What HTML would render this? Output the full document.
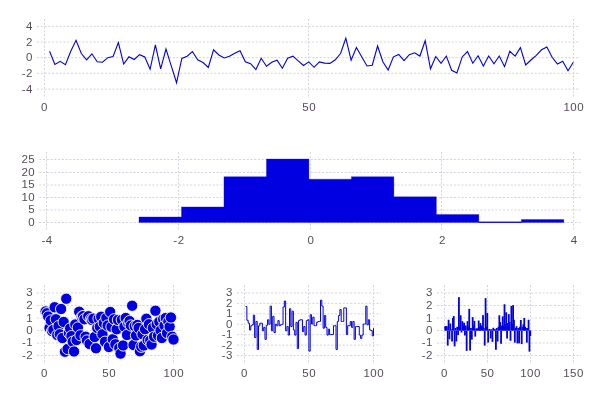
<!DOCTYPE html>
<html><head><meta charset="utf-8"><style>
html,body{margin:0;padding:0;background:#fff;}
svg{display:block;will-change:transform;}
text{font-family:"Liberation Sans",sans-serif;font-size:11.5px;fill:#564c58;letter-spacing:0.5px;}
.g{stroke:#d4d4e0;stroke-width:1;stroke-dasharray:2.1 1.67;}
</style></head><body>
<svg width="600" height="400" viewBox="0 0 600 400">
<rect width="600" height="400" fill="#fff"/>
<line x1="37" y1="26.4" x2="580" y2="26.4" class="g"/>
<line x1="37" y1="42.0" x2="580" y2="42.0" class="g"/>
<line x1="37" y1="57.65" x2="580" y2="57.65" class="g"/>
<line x1="37" y1="73.3" x2="580" y2="73.3" class="g"/>
<line x1="37" y1="89.1" x2="580" y2="89.1" class="g"/>
<line x1="44.5" y1="19" x2="44.5" y2="96.5" class="g"/>
<line x1="308.5" y1="19" x2="308.5" y2="96.5" class="g"/>
<line x1="573.5" y1="19" x2="573.5" y2="96.5" class="g"/>
<text x="33.00" y="30" text-anchor="end">4</text>
<text x="33.00" y="46" text-anchor="end">2</text>
<text x="33.00" y="61" text-anchor="end">0</text>
<text x="33.00" y="77" text-anchor="end">-2</text>
<text x="33.00" y="93" text-anchor="end">-4</text>
<text x="44.55" y="111" text-anchor="middle">0</text>
<text x="309.15" y="111" text-anchor="middle">50</text>
<text x="573.75" y="111" text-anchor="middle">100</text>
<polyline points="49.59,51.25 54.88,64.45 60.17,61.30 65.46,64.75 70.75,51.25 76.04,40.30 81.33,53.50 86.62,59.80 91.91,53.80 97.20,61.75 102.49,62.20 107.78,57.70 113.07,56.50 118.36,42.55 123.65,64.00 128.94,56.80 134.23,59.50 139.52,54.70 144.81,57.00 150.10,69.25 155.39,44.80 160.68,68.80 165.97,49.00 171.26,65.80 176.55,82.75 181.84,58.45 187.13,56.20 192.42,51.55 197.71,59.80 203.00,62.50 208.29,67.50 213.58,49.75 218.87,55.00 224.16,58.00 229.45,56.20 234.74,53.20 240.03,50.80 245.32,61.75 250.61,63.70 255.90,69.55 261.19,58.30 266.48,66.25 271.77,62.20 277.06,60.25 282.35,68.20 287.64,58.20 292.93,56.20 298.22,60.85 303.51,65.50 308.80,61.90 314.09,67.30 319.38,61.90 324.67,63.10 329.96,63.40 335.25,59.80 340.54,53.50 345.83,38.20 351.12,60.25 356.41,47.50 361.70,56.70 366.99,65.95 372.28,65.20 377.57,46.00 382.86,61.75 388.15,70.00 393.44,56.80 398.73,54.40 404.02,60.55 409.31,54.70 414.60,52.75 419.89,56.05 425.18,40.75 430.47,68.80 435.76,56.50 441.05,63.40 446.34,56.05 451.63,70.30 456.92,73.00 462.21,56.95 467.50,51.55 472.79,63.25 478.08,55.75 483.37,65.95 488.66,56.05 493.95,63.70 499.24,56.05 504.53,66.70 509.82,51.25 515.11,56.10 520.40,47.60 525.69,65.00 530.98,60.00 536.27,55.30 541.56,49.75 546.85,47.00 552.14,57.25 557.43,64.00 562.72,61.30 568.01,70.75 573.30,62.20" fill="none" stroke="#0000e1" stroke-width="1.1" stroke-linejoin="miter"/>
<line x1="39.25" y1="222.5" x2="581" y2="222.5" class="g"/>
<line x1="39.25" y1="210.0" x2="581" y2="210.0" class="g"/>
<line x1="39.25" y1="197.5" x2="581" y2="197.5" class="g"/>
<line x1="39.25" y1="185.0" x2="581" y2="185.0" class="g"/>
<line x1="39.25" y1="172.5" x2="581" y2="172.5" class="g"/>
<line x1="39.25" y1="159.5" x2="581" y2="159.5" class="g"/>
<line x1="46.5" y1="152" x2="46.5" y2="229.5" class="g"/>
<line x1="178.5" y1="152" x2="178.5" y2="229.5" class="g"/>
<line x1="310.5" y1="152" x2="310.5" y2="229.5" class="g"/>
<line x1="441.5" y1="152" x2="441.5" y2="229.5" class="g"/>
<line x1="573.5" y1="152" x2="573.5" y2="229.5" class="g"/>
<text x="35.20" y="226" text-anchor="end">0</text>
<text x="35.20" y="213" text-anchor="end">5</text>
<text x="35.20" y="201" text-anchor="end">10</text>
<text x="35.20" y="188" text-anchor="end">15</text>
<text x="35.20" y="176" text-anchor="end">20</text>
<text x="35.20" y="163" text-anchor="end">25</text>
<text x="47.00" y="244" text-anchor="middle">-4</text>
<text x="178.95" y="244" text-anchor="middle">-2</text>
<text x="310.95" y="244" text-anchor="middle">0</text>
<text x="442.45" y="244" text-anchor="middle">2</text>
<text x="574.15" y="244" text-anchor="middle">4</text>
<rect x="478.84" y="221.70" width="42.48" height="1" fill="#0000e1"/>
<path d="M139.00,222.60V216.96H181.48V222.60Z M181.48,222.60V206.88H223.96V222.60Z M223.96,222.60V176.64H266.44V222.60Z M266.44,222.60V159.00H308.92V222.60Z M308.92,222.60V179.16H351.40V222.60Z M351.40,222.60V176.64H393.88V222.60Z M393.88,222.60V196.80H436.36V222.60Z M436.36,222.60V214.44H478.84V222.60Z M478.84,222.60V222.00H521.32V222.60Z M521.32,222.60V219.48H563.80V222.60Z " fill="#0000e1" stroke="#0000e1" stroke-width="0.3"/>
<line x1="37" y1="293.0" x2="181" y2="293.0" class="g"/>
<line x1="37" y1="305.5" x2="181" y2="305.5" class="g"/>
<line x1="37" y1="318.0" x2="181" y2="318.0" class="g"/>
<line x1="37" y1="330.5" x2="181" y2="330.5" class="g"/>
<line x1="37" y1="343.0" x2="181" y2="343.0" class="g"/>
<line x1="37" y1="355.5" x2="181" y2="355.5" class="g"/>
<line x1="44.5" y1="285" x2="44.5" y2="362.5" class="g"/>
<line x1="108.5" y1="285" x2="108.5" y2="362.5" class="g"/>
<line x1="173.5" y1="285" x2="173.5" y2="362.5" class="g"/>
<text x="33.20" y="296" text-anchor="end">3</text>
<text x="33.20" y="309" text-anchor="end">2</text>
<text x="33.20" y="322" text-anchor="end">1</text>
<text x="33.20" y="334" text-anchor="end">0</text>
<text x="33.20" y="346" text-anchor="end">-1</text>
<text x="33.20" y="359" text-anchor="end">-2</text>
<text x="44.55" y="377" text-anchor="middle">0</text>
<text x="109.15" y="377" text-anchor="middle">50</text>
<text x="173.75" y="377" text-anchor="middle">100</text>
<circle cx="45.59" cy="311.50" r="5.65" fill="#0000e1" stroke="#fff" stroke-width="0.9"/>
<circle cx="46.88" cy="313.25" r="5.65" fill="#0000e1" stroke="#fff" stroke-width="0.9"/>
<circle cx="48.18" cy="316.50" r="5.65" fill="#0000e1" stroke="#fff" stroke-width="0.9"/>
<circle cx="49.47" cy="328.00" r="5.65" fill="#0000e1" stroke="#fff" stroke-width="0.9"/>
<circle cx="50.76" cy="320.50" r="5.65" fill="#0000e1" stroke="#fff" stroke-width="0.9"/>
<circle cx="52.05" cy="331.12" r="5.65" fill="#0000e1" stroke="#fff" stroke-width="0.9"/>
<circle cx="53.34" cy="329.88" r="5.65" fill="#0000e1" stroke="#fff" stroke-width="0.9"/>
<circle cx="54.64" cy="307.25" r="5.65" fill="#0000e1" stroke="#fff" stroke-width="0.9"/>
<circle cx="55.93" cy="319.25" r="5.65" fill="#0000e1" stroke="#fff" stroke-width="0.9"/>
<circle cx="57.22" cy="335.00" r="5.65" fill="#0000e1" stroke="#fff" stroke-width="0.9"/>
<circle cx="58.51" cy="326.12" r="5.65" fill="#0000e1" stroke="#fff" stroke-width="0.9"/>
<circle cx="59.80" cy="334.25" r="5.65" fill="#0000e1" stroke="#fff" stroke-width="0.9"/>
<circle cx="61.10" cy="309.00" r="5.65" fill="#0000e1" stroke="#fff" stroke-width="0.9"/>
<circle cx="62.39" cy="338.00" r="5.65" fill="#0000e1" stroke="#fff" stroke-width="0.9"/>
<circle cx="63.68" cy="322.00" r="5.65" fill="#0000e1" stroke="#fff" stroke-width="0.9"/>
<circle cx="64.97" cy="351.75" r="5.65" fill="#0000e1" stroke="#fff" stroke-width="0.9"/>
<circle cx="66.26" cy="298.75" r="5.65" fill="#0000e1" stroke="#fff" stroke-width="0.9"/>
<circle cx="67.56" cy="349.00" r="5.65" fill="#0000e1" stroke="#fff" stroke-width="0.9"/>
<circle cx="68.85" cy="333.00" r="5.65" fill="#0000e1" stroke="#fff" stroke-width="0.9"/>
<circle cx="70.14" cy="328.50" r="5.65" fill="#0000e1" stroke="#fff" stroke-width="0.9"/>
<circle cx="71.43" cy="336.12" r="5.65" fill="#0000e1" stroke="#fff" stroke-width="0.9"/>
<circle cx="72.72" cy="341.75" r="5.65" fill="#0000e1" stroke="#fff" stroke-width="0.9"/>
<circle cx="74.02" cy="351.50" r="5.65" fill="#0000e1" stroke="#fff" stroke-width="0.9"/>
<circle cx="75.31" cy="324.50" r="5.65" fill="#0000e1" stroke="#fff" stroke-width="0.9"/>
<circle cx="76.60" cy="340.00" r="5.65" fill="#0000e1" stroke="#fff" stroke-width="0.9"/>
<circle cx="77.89" cy="327.50" r="5.65" fill="#0000e1" stroke="#fff" stroke-width="0.9"/>
<circle cx="79.18" cy="311.75" r="5.65" fill="#0000e1" stroke="#fff" stroke-width="0.9"/>
<circle cx="80.48" cy="335.25" r="5.65" fill="#0000e1" stroke="#fff" stroke-width="0.9"/>
<circle cx="81.77" cy="316.75" r="5.65" fill="#0000e1" stroke="#fff" stroke-width="0.9"/>
<circle cx="83.06" cy="316.12" r="5.65" fill="#0000e1" stroke="#fff" stroke-width="0.9"/>
<circle cx="84.35" cy="319.25" r="5.65" fill="#0000e1" stroke="#fff" stroke-width="0.9"/>
<circle cx="85.64" cy="336.75" r="5.65" fill="#0000e1" stroke="#fff" stroke-width="0.9"/>
<circle cx="86.94" cy="340.50" r="5.65" fill="#0000e1" stroke="#fff" stroke-width="0.9"/>
<circle cx="88.23" cy="316.25" r="5.65" fill="#0000e1" stroke="#fff" stroke-width="0.9"/>
<circle cx="89.52" cy="344.00" r="5.65" fill="#0000e1" stroke="#fff" stroke-width="0.9"/>
<circle cx="90.81" cy="319.25" r="5.65" fill="#0000e1" stroke="#fff" stroke-width="0.9"/>
<circle cx="92.10" cy="320.00" r="5.65" fill="#0000e1" stroke="#fff" stroke-width="0.9"/>
<circle cx="93.40" cy="318.62" r="5.65" fill="#0000e1" stroke="#fff" stroke-width="0.9"/>
<circle cx="94.69" cy="337.00" r="5.65" fill="#0000e1" stroke="#fff" stroke-width="0.9"/>
<circle cx="95.98" cy="348.25" r="5.65" fill="#0000e1" stroke="#fff" stroke-width="0.9"/>
<circle cx="97.27" cy="328.00" r="5.65" fill="#0000e1" stroke="#fff" stroke-width="0.9"/>
<circle cx="98.56" cy="318.62" r="5.65" fill="#0000e1" stroke="#fff" stroke-width="0.9"/>
<circle cx="99.86" cy="326.75" r="5.65" fill="#0000e1" stroke="#fff" stroke-width="0.9"/>
<circle cx="101.15" cy="316.75" r="5.65" fill="#0000e1" stroke="#fff" stroke-width="0.9"/>
<circle cx="102.44" cy="334.25" r="5.65" fill="#0000e1" stroke="#fff" stroke-width="0.9"/>
<circle cx="103.73" cy="323.00" r="5.65" fill="#0000e1" stroke="#fff" stroke-width="0.9"/>
<circle cx="105.02" cy="341.75" r="5.65" fill="#0000e1" stroke="#fff" stroke-width="0.9"/>
<circle cx="106.32" cy="318.00" r="5.65" fill="#0000e1" stroke="#fff" stroke-width="0.9"/>
<circle cx="107.61" cy="325.50" r="5.65" fill="#0000e1" stroke="#fff" stroke-width="0.9"/>
<circle cx="108.90" cy="347.00" r="5.65" fill="#0000e1" stroke="#fff" stroke-width="0.9"/>
<circle cx="110.19" cy="312.00" r="5.65" fill="#0000e1" stroke="#fff" stroke-width="0.9"/>
<circle cx="111.48" cy="326.75" r="5.65" fill="#0000e1" stroke="#fff" stroke-width="0.9"/>
<circle cx="112.78" cy="339.25" r="5.65" fill="#0000e1" stroke="#fff" stroke-width="0.9"/>
<circle cx="114.07" cy="319.25" r="5.65" fill="#0000e1" stroke="#fff" stroke-width="0.9"/>
<circle cx="115.36" cy="344.25" r="5.65" fill="#0000e1" stroke="#fff" stroke-width="0.9"/>
<circle cx="116.65" cy="329.25" r="5.65" fill="#0000e1" stroke="#fff" stroke-width="0.9"/>
<circle cx="117.94" cy="320.00" r="5.65" fill="#0000e1" stroke="#fff" stroke-width="0.9"/>
<circle cx="119.24" cy="348.00" r="5.65" fill="#0000e1" stroke="#fff" stroke-width="0.9"/>
<circle cx="120.53" cy="353.62" r="5.65" fill="#0000e1" stroke="#fff" stroke-width="0.9"/>
<circle cx="121.82" cy="319.88" r="5.65" fill="#0000e1" stroke="#fff" stroke-width="0.9"/>
<circle cx="123.11" cy="345.50" r="5.65" fill="#0000e1" stroke="#fff" stroke-width="0.9"/>
<circle cx="124.40" cy="326.75" r="5.65" fill="#0000e1" stroke="#fff" stroke-width="0.9"/>
<circle cx="125.70" cy="318.00" r="5.65" fill="#0000e1" stroke="#fff" stroke-width="0.9"/>
<circle cx="126.99" cy="335.00" r="5.65" fill="#0000e1" stroke="#fff" stroke-width="0.9"/>
<circle cx="128.28" cy="323.00" r="5.65" fill="#0000e1" stroke="#fff" stroke-width="0.9"/>
<circle cx="129.57" cy="321.12" r="5.65" fill="#0000e1" stroke="#fff" stroke-width="0.9"/>
<circle cx="130.86" cy="325.50" r="5.65" fill="#0000e1" stroke="#fff" stroke-width="0.9"/>
<circle cx="132.16" cy="305.75" r="5.65" fill="#0000e1" stroke="#fff" stroke-width="0.9"/>
<circle cx="133.45" cy="345.00" r="5.65" fill="#0000e1" stroke="#fff" stroke-width="0.9"/>
<circle cx="134.74" cy="326.12" r="5.65" fill="#0000e1" stroke="#fff" stroke-width="0.9"/>
<circle cx="136.03" cy="335.50" r="5.65" fill="#0000e1" stroke="#fff" stroke-width="0.9"/>
<circle cx="137.32" cy="325.00" r="5.65" fill="#0000e1" stroke="#fff" stroke-width="0.9"/>
<circle cx="138.62" cy="328.00" r="5.65" fill="#0000e1" stroke="#fff" stroke-width="0.9"/>
<circle cx="139.91" cy="351.25" r="5.65" fill="#0000e1" stroke="#fff" stroke-width="0.9"/>
<circle cx="141.20" cy="346.75" r="5.65" fill="#0000e1" stroke="#fff" stroke-width="0.9"/>
<circle cx="142.49" cy="334.25" r="5.65" fill="#0000e1" stroke="#fff" stroke-width="0.9"/>
<circle cx="143.78" cy="345.50" r="5.65" fill="#0000e1" stroke="#fff" stroke-width="0.9"/>
<circle cx="145.08" cy="329.25" r="5.65" fill="#0000e1" stroke="#fff" stroke-width="0.9"/>
<circle cx="146.37" cy="318.75" r="5.65" fill="#0000e1" stroke="#fff" stroke-width="0.9"/>
<circle cx="147.66" cy="340.00" r="5.65" fill="#0000e1" stroke="#fff" stroke-width="0.9"/>
<circle cx="148.95" cy="324.25" r="5.65" fill="#0000e1" stroke="#fff" stroke-width="0.9"/>
<circle cx="150.24" cy="340.50" r="5.65" fill="#0000e1" stroke="#fff" stroke-width="0.9"/>
<circle cx="151.54" cy="344.50" r="5.65" fill="#0000e1" stroke="#fff" stroke-width="0.9"/>
<circle cx="152.83" cy="328.00" r="5.65" fill="#0000e1" stroke="#fff" stroke-width="0.9"/>
<circle cx="154.12" cy="336.75" r="5.65" fill="#0000e1" stroke="#fff" stroke-width="0.9"/>
<circle cx="155.41" cy="310.75" r="5.65" fill="#0000e1" stroke="#fff" stroke-width="0.9"/>
<circle cx="156.70" cy="324.25" r="5.65" fill="#0000e1" stroke="#fff" stroke-width="0.9"/>
<circle cx="158.00" cy="335.50" r="5.65" fill="#0000e1" stroke="#fff" stroke-width="0.9"/>
<circle cx="159.29" cy="321.75" r="5.65" fill="#0000e1" stroke="#fff" stroke-width="0.9"/>
<circle cx="160.58" cy="330.50" r="5.65" fill="#0000e1" stroke="#fff" stroke-width="0.9"/>
<circle cx="161.87" cy="338.00" r="5.65" fill="#0000e1" stroke="#fff" stroke-width="0.9"/>
<circle cx="163.16" cy="319.25" r="5.65" fill="#0000e1" stroke="#fff" stroke-width="0.9"/>
<circle cx="164.46" cy="325.50" r="5.65" fill="#0000e1" stroke="#fff" stroke-width="0.9"/>
<circle cx="165.75" cy="318.00" r="5.65" fill="#0000e1" stroke="#fff" stroke-width="0.9"/>
<circle cx="167.04" cy="333.00" r="5.65" fill="#0000e1" stroke="#fff" stroke-width="0.9"/>
<circle cx="168.33" cy="321.75" r="5.65" fill="#0000e1" stroke="#fff" stroke-width="0.9"/>
<circle cx="169.62" cy="326.75" r="5.65" fill="#0000e1" stroke="#fff" stroke-width="0.9"/>
<circle cx="170.92" cy="317.50" r="5.65" fill="#0000e1" stroke="#fff" stroke-width="0.9"/>
<circle cx="172.21" cy="336.75" r="5.65" fill="#0000e1" stroke="#fff" stroke-width="0.9"/>
<circle cx="173.50" cy="339.50" r="5.65" fill="#0000e1" stroke="#fff" stroke-width="0.9"/>
<line x1="237" y1="292.99" x2="381" y2="292.99" class="g"/>
<line x1="237" y1="303.41" x2="381" y2="303.41" class="g"/>
<line x1="237" y1="313.83" x2="381" y2="313.83" class="g"/>
<line x1="237" y1="324.25" x2="381" y2="324.25" class="g"/>
<line x1="237" y1="334.67" x2="381" y2="334.67" class="g"/>
<line x1="237" y1="345.09" x2="381" y2="345.09" class="g"/>
<line x1="237" y1="355.51" x2="381" y2="355.51" class="g"/>
<line x1="244.5" y1="285" x2="244.5" y2="362.5" class="g"/>
<line x1="308.5" y1="285" x2="308.5" y2="362.5" class="g"/>
<line x1="373.5" y1="285" x2="373.5" y2="362.5" class="g"/>
<text x="233.00" y="296" text-anchor="end">3</text>
<text x="233.00" y="307" text-anchor="end">2</text>
<text x="233.00" y="317" text-anchor="end">1</text>
<text x="233.00" y="328" text-anchor="end">0</text>
<text x="233.00" y="338" text-anchor="end">-1</text>
<text x="233.00" y="349" text-anchor="end">-2</text>
<text x="233.00" y="359" text-anchor="end">-3</text>
<text x="244.55" y="377" text-anchor="middle">0</text>
<text x="309.15" y="377" text-anchor="middle">50</text>
<text x="373.75" y="377" text-anchor="middle">100</text>
<path d="M245.59,306.54 H246.88 V320.29 H248.18 V323.21 H249.47 V329.98 H250.76 V325.81 H252.05 V324.77 H253.34 V315.18 H254.64 V337.59 H255.93 V321.44 H257.22 V349.47 H258.51 V325.81 H259.80 V323.21 H261.10 V323.21 H262.39 V330.81 H263.68 V327.38 H264.97 V339.36 H266.26 V325.29 H267.56 V319.77 H268.85 V324.25 H270.14 V306.12 H271.43 V330.81 H272.72 V316.33 H274.02 V332.59 H275.31 V324.25 H276.60 V325.81 H277.89 V320.60 H279.18 V325.81 H280.48 V324.77 H281.77 V324.25 H283.06 V307.06 H284.35 V301.01 H285.64 V330.81 H286.94 V326.54 H288.23 V335.09 H289.52 V308.72 H290.81 V326.54 H292.10 V311.23 H293.40 V329.98 H294.69 V335.09 H295.98 V322.37 H297.27 V348.63 H298.56 V320.60 H299.86 V319.77 H301.15 V319.77 H302.44 V331.65 H303.73 V326.54 H305.02 V335.09 H306.32 V320.60 H307.61 V319.77 H308.90 V351.13 H310.19 V314.66 H311.48 V324.04 H312.78 V317.16 H314.07 V325.71 H315.36 V325.71 H316.65 V322.27 H317.94 V321.44 H319.24 V321.44 H320.53 V300.18 H321.82 V306.12 H323.11 V328.21 H324.40 V315.50 H325.70 V327.38 H326.99 V335.09 H328.28 V329.15 H329.57 V334.67 H330.86 V334.57 H332.16 V334.57 H333.45 V325.71 H334.74 V325.71 H336.03 V349.47 H337.32 V321.44 H338.62 V315.50 H339.91 V309.56 H341.20 V321.44 H342.49 V321.44 H343.78 V307.89 H345.08 V307.89 H346.37 V334.57 H347.66 V325.71 H348.95 V325.71 H350.24 V321.44 H351.54 V327.38 H352.83 V321.44 H354.12 V339.36 H355.41 V326.54 H356.70 V326.54 H358.00 V326.54 H359.29 V335.09 H360.58 V338.42 H361.87 V335.09 H363.16 V324.04 H364.46 V324.04 H365.75 V306.22 H367.04 V324.88 H368.33 V319.77 H369.62 V329.98 H370.92 V330.50 H372.21 V335.92 H373.50 V328.21" fill="none" stroke="#0000e1" stroke-width="1.0"/>
<line x1="437" y1="293.0" x2="581" y2="293.0" class="g"/>
<line x1="437" y1="305.5" x2="581" y2="305.5" class="g"/>
<line x1="437" y1="318.0" x2="581" y2="318.0" class="g"/>
<line x1="437" y1="330.5" x2="581" y2="330.5" class="g"/>
<line x1="437" y1="343.0" x2="581" y2="343.0" class="g"/>
<line x1="437" y1="355.5" x2="581" y2="355.5" class="g"/>
<line x1="444.5" y1="285" x2="444.5" y2="362.5" class="g"/>
<line x1="487.5" y1="285" x2="487.5" y2="362.5" class="g"/>
<line x1="530.5" y1="285" x2="530.5" y2="362.5" class="g"/>
<line x1="573.5" y1="285" x2="573.5" y2="362.5" class="g"/>
<text x="433.00" y="296" text-anchor="end">3</text>
<text x="433.00" y="309" text-anchor="end">2</text>
<text x="433.00" y="322" text-anchor="end">1</text>
<text x="433.00" y="334" text-anchor="end">0</text>
<text x="433.00" y="346" text-anchor="end">-1</text>
<text x="433.00" y="359" text-anchor="end">-2</text>
<text x="444.55" y="377" text-anchor="middle">0</text>
<text x="487.55" y="377" text-anchor="middle">50</text>
<text x="530.55" y="377" text-anchor="middle">100</text>
<text x="573.55" y="377" text-anchor="middle">150</text>
<rect x="444.26" y="326.25" width="1.8" height="4.25" fill="#0000e1"/>
<rect x="445.12" y="326.25" width="1.8" height="4.25" fill="#0000e1"/>
<rect x="445.98" y="326.25" width="1.8" height="4.25" fill="#0000e1"/>
<rect x="446.84" y="330.50" width="1.8" height="15.12" fill="#0000e1"/>
<rect x="447.70" y="319.75" width="1.8" height="10.75" fill="#0000e1"/>
<rect x="448.56" y="330.50" width="1.8" height="8.75" fill="#0000e1"/>
<rect x="449.42" y="323.50" width="1.8" height="7.00" fill="#0000e1"/>
<rect x="450.28" y="329.25" width="1.8" height="1.25" fill="#0000e1"/>
<rect x="451.14" y="330.50" width="1.8" height="11.00" fill="#0000e1"/>
<rect x="452.00" y="318.00" width="1.8" height="12.50" fill="#0000e1"/>
<rect x="452.86" y="316.00" width="1.8" height="14.50" fill="#0000e1"/>
<rect x="453.72" y="330.50" width="1.8" height="15.88" fill="#0000e1"/>
<rect x="454.58" y="328.00" width="1.8" height="2.50" fill="#0000e1"/>
<rect x="455.44" y="330.50" width="1.8" height="11.00" fill="#0000e1"/>
<rect x="456.30" y="326.75" width="1.8" height="3.75" fill="#0000e1"/>
<rect x="457.16" y="330.50" width="1.8" height="4.62" fill="#0000e1"/>
<rect x="458.02" y="297.12" width="1.8" height="33.38" fill="#0000e1"/>
<rect x="458.88" y="326.75" width="1.8" height="3.75" fill="#0000e1"/>
<rect x="459.74" y="315.25" width="1.8" height="15.25" fill="#0000e1"/>
<rect x="460.60" y="330.50" width="1.8" height="2.00" fill="#0000e1"/>
<rect x="461.46" y="321.12" width="1.8" height="9.38" fill="#0000e1"/>
<rect x="462.32" y="325.50" width="1.8" height="5.00" fill="#0000e1"/>
<rect x="463.18" y="322.75" width="1.8" height="7.75" fill="#0000e1"/>
<rect x="464.04" y="330.50" width="1.8" height="5.00" fill="#0000e1"/>
<rect x="464.90" y="325.50" width="1.8" height="5.00" fill="#0000e1"/>
<rect x="465.76" y="330.50" width="1.8" height="20.38" fill="#0000e1"/>
<rect x="466.62" y="321.12" width="1.8" height="9.38" fill="#0000e1"/>
<rect x="467.48" y="326.75" width="1.8" height="3.75" fill="#0000e1"/>
<rect x="468.34" y="308.88" width="1.8" height="21.62" fill="#0000e1"/>
<rect x="469.20" y="330.50" width="1.8" height="20.00" fill="#0000e1"/>
<rect x="470.06" y="328.00" width="1.8" height="2.50" fill="#0000e1"/>
<rect x="470.92" y="330.50" width="1.8" height="9.12" fill="#0000e1"/>
<rect x="471.78" y="317.12" width="1.8" height="13.38" fill="#0000e1"/>
<rect x="472.64" y="325.50" width="1.8" height="5.00" fill="#0000e1"/>
<rect x="473.50" y="320.88" width="1.8" height="9.62" fill="#0000e1"/>
<rect x="474.36" y="330.50" width="1.8" height="6.12" fill="#0000e1"/>
<rect x="475.22" y="328.50" width="1.8" height="2.00" fill="#0000e1"/>
<rect x="476.08" y="328.50" width="1.8" height="2.00" fill="#0000e1"/>
<rect x="476.94" y="328.50" width="1.8" height="2.00" fill="#0000e1"/>
<rect x="477.80" y="320.50" width="1.8" height="10.00" fill="#0000e1"/>
<rect x="478.66" y="326.75" width="1.8" height="3.75" fill="#0000e1"/>
<rect x="479.52" y="323.12" width="1.8" height="7.38" fill="#0000e1"/>
<rect x="480.38" y="325.50" width="1.8" height="5.00" fill="#0000e1"/>
<rect x="481.24" y="326.75" width="1.8" height="3.75" fill="#0000e1"/>
<rect x="482.10" y="315.12" width="1.8" height="15.38" fill="#0000e1"/>
<rect x="482.96" y="328.00" width="1.8" height="2.50" fill="#0000e1"/>
<rect x="483.82" y="330.50" width="1.8" height="15.12" fill="#0000e1"/>
<rect x="484.68" y="298.12" width="1.8" height="32.38" fill="#0000e1"/>
<rect x="485.54" y="326.75" width="1.8" height="3.75" fill="#0000e1"/>
<rect x="486.40" y="313.00" width="1.8" height="17.50" fill="#0000e1"/>
<rect x="487.26" y="330.50" width="1.8" height="12.12" fill="#0000e1"/>
<rect x="488.12" y="329.25" width="1.8" height="1.25" fill="#0000e1"/>
<rect x="488.98" y="329.25" width="1.8" height="1.25" fill="#0000e1"/>
<rect x="489.84" y="330.50" width="1.8" height="8.00" fill="#0000e1"/>
<rect x="490.70" y="329.25" width="1.8" height="1.25" fill="#0000e1"/>
<rect x="491.56" y="330.50" width="1.8" height="11.38" fill="#0000e1"/>
<rect x="492.42" y="327.75" width="1.8" height="2.75" fill="#0000e1"/>
<rect x="493.28" y="329.25" width="1.8" height="1.25" fill="#0000e1"/>
<rect x="494.14" y="329.25" width="1.8" height="1.25" fill="#0000e1"/>
<rect x="495.00" y="330.50" width="1.8" height="19.25" fill="#0000e1"/>
<rect x="495.86" y="328.00" width="1.8" height="2.50" fill="#0000e1"/>
<rect x="496.72" y="330.50" width="1.8" height="11.00" fill="#0000e1"/>
<rect x="497.58" y="326.75" width="1.8" height="3.75" fill="#0000e1"/>
<rect x="498.44" y="315.25" width="1.8" height="15.25" fill="#0000e1"/>
<rect x="499.30" y="322.00" width="1.8" height="8.50" fill="#0000e1"/>
<rect x="500.16" y="330.50" width="1.8" height="13.25" fill="#0000e1"/>
<rect x="501.02" y="325.50" width="1.8" height="5.00" fill="#0000e1"/>
<rect x="501.88" y="316.38" width="1.8" height="14.12" fill="#0000e1"/>
<rect x="502.74" y="325.50" width="1.8" height="5.00" fill="#0000e1"/>
<rect x="503.60" y="304.25" width="1.8" height="26.25" fill="#0000e1"/>
<rect x="504.46" y="324.25" width="1.8" height="6.25" fill="#0000e1"/>
<rect x="505.32" y="312.25" width="1.8" height="18.25" fill="#0000e1"/>
<rect x="506.18" y="330.50" width="1.8" height="8.00" fill="#0000e1"/>
<rect x="507.04" y="323.00" width="1.8" height="7.50" fill="#0000e1"/>
<rect x="507.90" y="314.12" width="1.8" height="16.38" fill="#0000e1"/>
<rect x="508.76" y="322.00" width="1.8" height="8.50" fill="#0000e1"/>
<rect x="509.62" y="330.50" width="1.8" height="10.25" fill="#0000e1"/>
<rect x="510.48" y="305.88" width="1.8" height="24.62" fill="#0000e1"/>
<rect x="511.34" y="324.25" width="1.8" height="6.25" fill="#0000e1"/>
<rect x="512.20" y="305.12" width="1.8" height="25.38" fill="#0000e1"/>
<rect x="513.06" y="319.75" width="1.8" height="10.75" fill="#0000e1"/>
<rect x="513.92" y="330.50" width="1.8" height="12.12" fill="#0000e1"/>
<rect x="514.78" y="328.00" width="1.8" height="2.50" fill="#0000e1"/>
<rect x="515.64" y="326.25" width="1.8" height="4.25" fill="#0000e1"/>
<rect x="516.50" y="330.50" width="1.8" height="12.88" fill="#0000e1"/>
<rect x="517.36" y="328.00" width="1.8" height="2.50" fill="#0000e1"/>
<rect x="518.22" y="330.50" width="1.8" height="12.88" fill="#0000e1"/>
<rect x="519.08" y="326.75" width="1.8" height="3.75" fill="#0000e1"/>
<rect x="519.94" y="320.00" width="1.8" height="10.50" fill="#0000e1"/>
<rect x="520.80" y="330.50" width="1.8" height="13.62" fill="#0000e1"/>
<rect x="521.66" y="326.75" width="1.8" height="3.75" fill="#0000e1"/>
<rect x="522.52" y="324.25" width="1.8" height="6.25" fill="#0000e1"/>
<rect x="523.38" y="318.00" width="1.8" height="12.50" fill="#0000e1"/>
<rect x="524.24" y="326.75" width="1.8" height="3.75" fill="#0000e1"/>
<rect x="525.10" y="328.00" width="1.8" height="2.50" fill="#0000e1"/>
<rect x="525.96" y="330.50" width="1.8" height="12.12" fill="#0000e1"/>
<rect x="526.82" y="328.00" width="1.8" height="2.50" fill="#0000e1"/>
<rect x="527.68" y="319.75" width="1.8" height="10.75" fill="#0000e1"/>
<rect x="528.54" y="330.50" width="1.8" height="21.12" fill="#0000e1"/>
<rect x="529.40" y="330.50" width="1.8" height="5.50" fill="#0000e1"/>
</svg></body></html>
